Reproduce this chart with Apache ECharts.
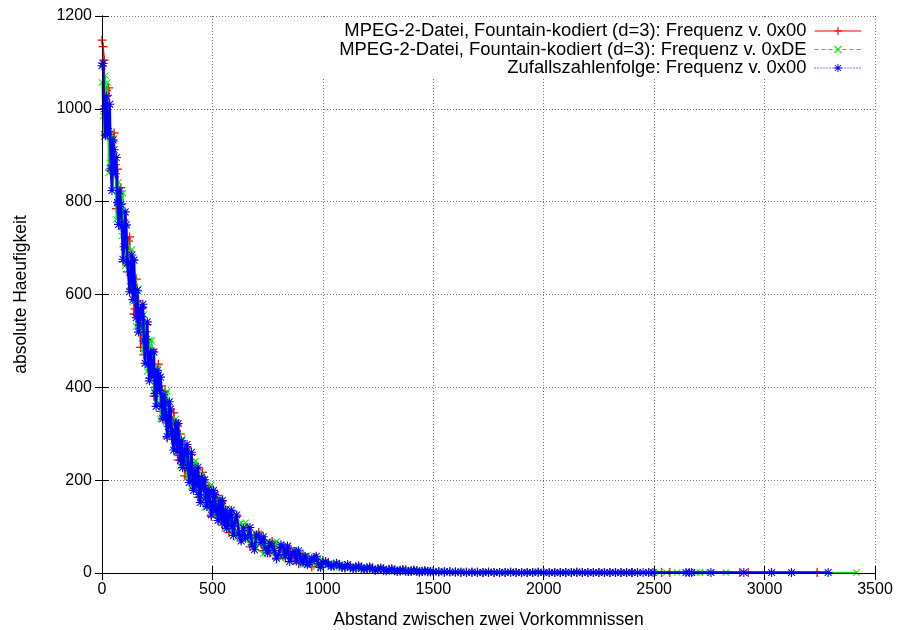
<!DOCTYPE html>
<html><head><meta charset="utf-8">
<script src="https://cdn.jsdelivr.net/npm/echarts@6/dist/echarts.min.js"></script>
<style>html,body{margin:0;padding:0;background:#fff}#c{width:901px;height:630px}</style>
</head><body><div id="c"></div>
<script>
const seriesNames = [
  'MPEG-2-Datei, Fountain-kodiert (d=3): Frequenz v. 0x00',
  'MPEG-2-Datei, Fountain-kodiert (d=3): Frequenz v. 0xDE',
  'Zufallszahlenfolge: Frequenz v. 0x00'
];
const xTickValues = [0, 500, 1000, 1500, 2000, 2500, 3000, 3500];
const yTickValues = [0, 200, 400, 600, 800, 1000, 1200];

// distances (x), coarse grid shared by all three series
const distances = [0,10,20,30,40,50,60,70,80,90,100,110,120,130,140,150,160,170,180,190,200,210,220,230,240,250,260,270,280,290,300,310,320,330,340,350,360,370,380,390,400,410,420,430,440,450,460,470,480,490,500,510,520,530,540,550,560,570,580,590,600,
  620,640,660,680,700,720,740,760,780,800,820,840,860,880,900,920,940,960,980,1000,
  1025,1050,1075,1100,1125,1150,1175,1200,1225,1250,1275,1300,1325,1350,1375,1400,1425,1450,1475,1500,1525,1550,1575,1600,1625,1650,1675,1700,1725,1750,1775,1800,1825,1850,1875,1900,1925,1950,1975,2000,2025,2050,2075,2100,2125,2150,2175,2200,2225,2250,2275,2300,2325,2350,2375,2400];
// distances (x), in-between grid shared by all three series
const distancesFine = [5,15,25,35,45,55,65,75,85,95,105,115,125,135,145,155,165,175,185,195,205,215,225,235,245,255,265,275,285,295,305,315,325,335,345,355,365,375,385,395,405,415,425,435,445,455,465,475,485,495,505,515,525,535,545,555,565,575,585,595,
  610,630,650,670,690,710,730,750,770,790,810,830,850,870,890,910,930,950,970,990,
  1012,1037,1062,1087,1112,1137,1162,1187,1212,1237,1262,1287,1312,1337,1362,1387,1412,1437,1462,1487];

const mpeg00Counts = [1148,1105,1040,1045,935,930,880,870,800,795,760,720,715,642,674,569,587,541,569,470,520,464,463,477,400,418,387,403,331,364,336,307,328,292,319,253,271,244,268,206,244,210,213,226,178,194,176,190,145,170,154,137,154,132,153,111,125,110,128,88,115,
  91,91,98,66,75,63,71,43,57,48,38,47,35,46,25,32,24,33,14,27,
  22,15,18,11,15,10,13,7,10,9,5,8,6,4,7,3,5,4,2,4,3,1,3,2,1,2,1,2,1,1,1,
  1,1,1,1,1,1,1,1,1,1,1,1,1,1,1,1,1,1,1,1,1,1,1,1,1];
const mpeg00Fine = [1134,951,1029,868,933,948,785,794,830,671,748,649,724,614,558,633,578,486,572,479,535,420,482,381,432,450,348,360,392,291,349,288,345,276,243,299,267,209,272,214,255,182,228,163,202,217,151,163,187,122,164,126,167,123,103,143,124,87,132,94,
  122,72,100,57,80,88,48,54,68,30,53,32,54,31,20,41,31,13,34,17,
  25,16,20,13,17,10,14,8,12,6,9,5,8,4,7,3,6,2,5,3];

const mpegDECounts = [1057,940,951,862,948,828,892,810,804,726,776,700,652,667,584,627,578,522,548,557,478,497,425,443,439,366,416,368,371,325,365,319,293,309,259,293,264,232,254,264,215,232,187,204,204,158,196,166,171,144,174,146,130,144,112,138,121,101,118,127,96,
  105,74,84,82,53,75,57,59,43,59,43,35,42,25,38,30,20,28,32,18,
  17,20,13,16,14,9,12,10,7,10,8,5,7,6,4,6,3,5,4,2,4,3,2,1,3,1,2,1,2,1,1,
  2,1,1,1,1,2,1,1,1,1,1,1,2,1,1,1,1,1,1,1,1,1,1,1,1];
const mpegDEFine = [984,1072,1057,884,888,936,762,842,747,818,662,710,618,697,637,531,612,528,476,537,434,502,501,391,402,442,332,393,335,391,291,329,273,332,297,230,290,238,207,253,187,238,241,170,181,212,141,185,149,190,125,154,118,161,139,96,139,106,87,121,
  76,108,108,62,68,85,41,67,46,68,32,47,28,50,39,18,38,23,14,29,
  16,22,13,19,11,15,9,13,7,11,6,9,5,8,3,6,2,5,4,2];

const randomCounts = [1093,1000,1027,951,872,933,860,798,823,746,703,750,670,665,589,603,609,534,552,500,503,449,476,433,387,436,394,360,384,338,316,353,305,307,262,276,285,240,257,226,232,199,222,197,169,206,181,161,180,152,140,169,139,143,115,127,135,106,120,101,107,
  84,97,79,61,82,66,54,64,48,40,56,58,41,26,32,36,23,29,20,23,
  19,16,17,13,12,13,10,11,8,7,8,6,5,6,4,5,4,3,4,3,2,3,2,2,2,1,2,1,1,2,1,
  1,1,2,1,1,1,1,2,1,1,1,1,1,1,2,1,1,1,1,1,1,1,1,1,1];
const randomFine = [1098,942,945,1010,824,912,895,751,794,676,778,668,606,685,674,550,519,570,579,452,541,414,425,476,359,426,422,332,367,294,369,301,265,323,322,243,227,266,277,195,260,178,189,228,152,201,201,143,171,125,178,134,113,155,156,105,96,126,135,81,
  125,69,75,98,50,79,78,43,58,32,61,37,25,47,48,22,18,32,36,12,
  24,14,21,12,18,9,15,8,13,6,11,5,9,4,7,3,6,2,5,2];

// isolated long distances (tail)
const mpeg00TailX = [2398, 2534, 2571, 2888, 2926, 3238];
const mpeg00TailY = [1, 1, 1, 1, 1, 1];
const mpegDETailX = [2523, 2556, 2604, 2692, 2707, 2730, 2825, 3416];
const mpegDETailY = [1, 1, 1, 1, 1, 1, 1, 1];
const randomTailX = [2425, 2450, 2475, 2495, 2644, 2659, 2670, 2757, 2906, 3032, 3122, 3288];
const randomTailY = [1, 1, 1, 1, 1, 1, 1, 1, 1, 1, 1, 1];

function pts(counts, fine, tx, ty) {
  const a = distances.map((d, i) => [d, counts[i]])
    .concat(distancesFine.map((d, i) => [d, fine[i]]))
    .concat(tx.map((d, i) => [d, ty[i]]));
  a.sort((p, q) => p[0] - q[0]);
  return a;
}

const PLUS = 'path://M4.3,0h1.4v10h-1.4zM0,4.3h10v1.4h-10z';
const CROSS = 'path://M0,1L1,0L10,9L9,10ZM9,0L10,1L1,10L0,9Z';
const STAR = 'path://M4.4,0h1.2v10h-1.2zM0,4.4h10v1.2h-10zM0.8,1.6L1.6,0.8L9.2,8.4L8.4,9.2ZM8.4,0.8L9.2,1.6L1.6,9.2L0.8,8.4Z';

const FONT = 'Liberation Sans';
const chart = echarts.init(document.getElementById('c'), null, {renderer: 'canvas'});

function legendFor(name, top, ltype) {
  return {
    data: [name], right: 39, top: top, orient: 'vertical', align: 'right',
    itemWidth: 47, itemHeight: 10, itemGap: 0, padding: 0,
    selectedMode: false,
    lineStyle: {type: ltype, width: 1},
    textStyle: {fontFamily: FONT, fontSize: 18.4, color: '#000', padding: [0, 3, 0, 0]}
  };
}

const option = {
  animation: false,
  backgroundColor: '#fff',
  grid: {left: 102, right: 26, top: 16, bottom: 57, show: false, containLabel: false, outerBoundsMode: 'none'},
  legend: [legendFor(seriesNames[0], 22, 'solid'), legendFor(seriesNames[1], 40.5, [4, 3]), legendFor(seriesNames[2], 59, [1, 2])],
  graphic: [{type: 'rect', z: 1, shape: {x: 318, y: 17, width: 556, height: 60}, style: {fill: '#fff'}, silent: true}],
  xAxis: [{
    type: 'value', min: 0, max: 3500, interval: 500, position: 'bottom',
    name: 'Abstand zwischen zwei Vorkommnissen', nameLocation: 'middle', nameGap: 38,
    nameTextStyle: {fontFamily: FONT, fontSize: 17.5, color: '#000'},
    axisLine: {show: true, lineStyle: {color: '#000', width: 1}},
    axisTick: {show: true, inside: true, length: 7, lineStyle: {color: '#000'}},
    axisLabel: {fontFamily: FONT, fontSize: 16, color: '#000', margin: 9,
      formatter: v => xTickValues.includes(v) ? String(v) : ''},
    splitLine: {show: true, lineStyle: {color: '#777', type: [1, 2], width: 1}}
  }, {
    type: 'value', min: 0, max: 3500, interval: 500, position: 'top', z: 5,
    axisLine: {show: true, lineStyle: {color: '#000', width: 1}},
    axisTick: {show: true, inside: true, length: 7, lineStyle: {color: '#000'}},
    axisLabel: {show: false}, splitLine: {show: false}
  }],
  yAxis: [{
    type: 'value', min: 0, max: 1200, interval: 200, position: 'left',
    name: 'absolute Haeufigkeit', nameLocation: 'middle', nameGap: 72, nameRotate: 90,
    nameTextStyle: {fontFamily: FONT, fontSize: 17.5, color: '#000'},
    axisLine: {show: true, lineStyle: {color: '#000', width: 1}},
    axisTick: {show: true, inside: true, length: 7, lineStyle: {color: '#000'}},
    axisLabel: {fontFamily: FONT, fontSize: 16, color: '#000', margin: 10,
      formatter: v => yTickValues.includes(v) ? String(v) : ''},
    splitLine: {show: true, lineStyle: {color: '#777', type: [1, 2], width: 1}}
  }, {
    type: 'value', min: 0, max: 1200, interval: 200, position: 'right', z: 5,
    axisLine: {show: true, lineStyle: {color: '#000', width: 1}},
    axisTick: {show: true, inside: true, length: 7, lineStyle: {color: '#000'}},
    axisLabel: {show: false}, splitLine: {show: false}
  }],
  series: [{
    name: seriesNames[0], type: 'line', z: 2, data: pts(mpeg00Counts, mpeg00Fine, mpeg00TailX, mpeg00TailY),
    symbol: PLUS, symbolSize: 9, showAllSymbol: true, silent: true,
    lineStyle: {color: '#ff0000', width: 1.5, type: 'solid'},
    itemStyle: {color: '#ff0000'}
  }, {
    name: seriesNames[1], type: 'line', z: 3, data: pts(mpegDECounts, mpegDEFine, mpegDETailX, mpegDETailY),
    symbol: CROSS, symbolSize: 7, showAllSymbol: true, silent: true,
    lineStyle: {color: '#00ee00', width: 1.5, type: 'solid'},
    itemStyle: {color: '#00ee00'}
  }, {
    name: seriesNames[2], type: 'line', z: 4, data: pts(randomCounts, randomFine, randomTailX, randomTailY),
    symbol: STAR, symbolSize: 9, showAllSymbol: true, silent: true,
    lineStyle: {color: '#0000ff', width: 2.5, type: 'solid'},
    itemStyle: {color: '#0000ff'}
  }]
};
chart.setOption(option);
</script>
</body></html>
